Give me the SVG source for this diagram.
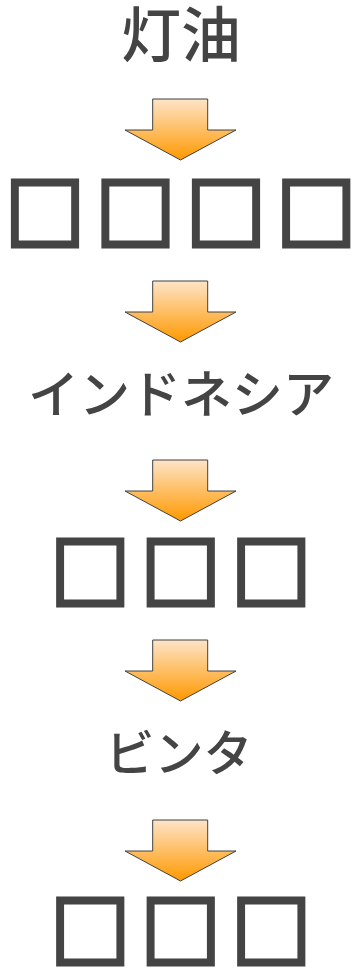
<svg xmlns="http://www.w3.org/2000/svg" width="351" height="969" viewBox="0 0 351 969">
<defs>
<linearGradient id="g" x1="0" y1="0" x2="0" y2="1">
<stop offset="0" stop-color="#fde4c8"/>
<stop offset="1" stop-color="#ff9900"/>
</linearGradient>
<path id="arrow" d="M152.7,0 H207.7 V31 H236 L180.5,61 L125,31 H152.7 Z"/>
</defs>
<style>
.t{font-family:"Noto Sans CJK JP","Noto Sans CJK SC",sans-serif;fill:#444444;text-anchor:middle;font-weight:500}
.box{font-family:"Noto Sans CJK JP","Noto Sans CJK SC",sans-serif;fill:#444444;stroke:#444444;stroke-width:5;stroke-linejoin:miter;text-anchor:middle;dominant-baseline:central;font-size:79px}
.arr{fill:url(#g);stroke:#404040;stroke-width:1}
</style>
<rect width="351" height="969" fill="#ffffff"/>
<g id="node1"><text class="t" x="181" y="57" font-size="60">灯油</text></g>
<g id="node2"><text class="box" x="45 135.5 226 316.3" y="209">□□□□</text></g>
<g id="node3"><text class="t" x="181" y="413" font-size="51">インドネシア</text></g>
<g id="node4"><text class="box" x="90.3 180.7 271.3" y="568.5">□□□</text></g>
<g id="node5"><text class="t" x="179" y="771" font-size="49">ビンタ</text></g>
<g id="node6"><text class="box" x="90.3 180.7 271.3" y="927.5">□□□</text></g>
<g id="connectors">
<use href="#arrow" class="arr" y="99"/>
<use href="#arrow" class="arr" y="281"/>
<use href="#arrow" class="arr" y="460"/>
<use href="#arrow" class="arr" y="640"/>
<use href="#arrow" class="arr" y="820"/>
</g>
</svg>
